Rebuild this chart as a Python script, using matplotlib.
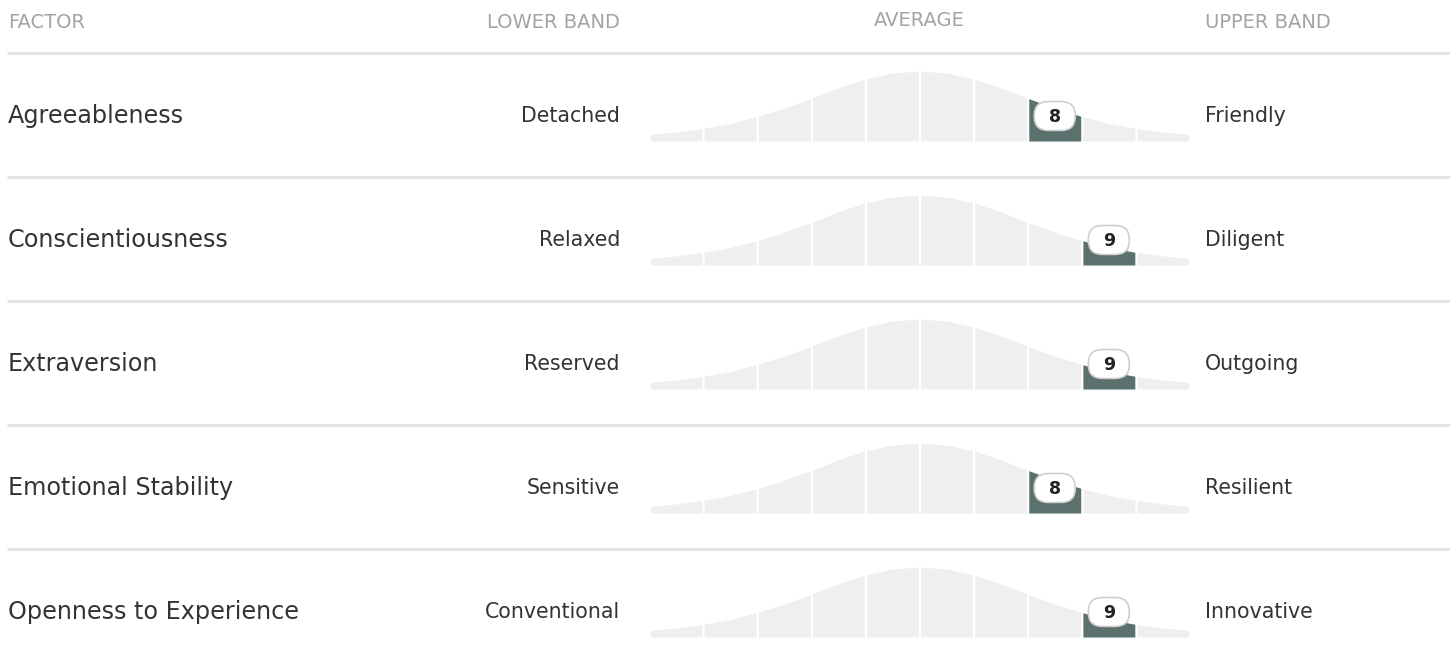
import matplotlib
matplotlib.use("Agg")
import matplotlib.pyplot as plt
from matplotlib.patches import FancyBboxPatch
import numpy as np

# data
factors = ["Agreeableness", "Conscientiousness", "Extraversion",
           "Emotional Stability", "Openness to Experience"]
lower_band = ["Detached", "Relaxed", "Reserved", "Sensitive", "Conventional"]
upper_band = ["Friendly", "Diligent", "Outgoing", "Resilient", "Innovative"]
scores = [8, 9, 9, 8, 9]
headers = ["FACTOR", "LOWER BAND", "AVERAGE", "UPPER BAND"]

# bell shape (sten position -> relative height)
curve_x = [0.5, 1.0, 1.5, 2.0, 2.5, 3.0, 3.5, 4.0, 4.5, 5.0, 5.5,
           6.0, 6.5, 7.0, 7.5, 8.0, 8.5, 9.0, 9.5, 10.0, 10.5]
curve_h = [0.09, 0.13, 0.18, 0.25, 0.35, 0.47, 0.61, 0.76, 0.89, 0.97, 1.0,
           0.97, 0.89, 0.76, 0.61, 0.47, 0.35, 0.25, 0.18, 0.13, 0.09]

W, H = 1450, 663
fig = plt.figure(figsize=(W / 100, H / 100), dpi=100)
ax = fig.add_axes([0, 0, 1, 1])
ax.set_xlim(0, W)
ax.set_ylim(H, 0)
ax.axis("off")

font = "DejaVu Sans"
dark = "#333333"
grey_txt = "#a3a3a3"
seg_col = "#efefef"
hi_col = "#5a716e"
line_col = "#e2e2e2"

# header
hs_ = 14
ax.text(8, 22, headers[0], ha="left", va="center", fontsize=hs_, color=grey_txt, family=font)
ax.text(620, 22, headers[1], ha="right", va="center", fontsize=hs_, color=grey_txt, family=font)
ax.text(919, 20, headers[2], ha="center", va="center", fontsize=hs_, color=grey_txt, family=font)
ax.text(1205, 22, headers[3], ha="left", va="center", fontsize=hs_, color=grey_txt, family=font)

row0, step = 116, 124
cx0, cx1 = 649, 1190

badges = []
for i, (name, lo, up, sc) in enumerate(zip(factors, lower_band, upper_band, scores)):
    yc = row0 + i * step
    ax.plot([7, W], [yc - 63, yc - 63], color=line_col, lw=2, solid_capstyle="butt")
    ax.text(8, yc, name, ha="left", va="center", fontsize=17.2, color=dark, family=font)
    ax.text(620, yc, lo, ha="right", va="center", fontsize=14.8, color=dark, family=font)
    ax.text(1205, yc, up, ha="left", va="center", fontsize=14.8, color=dark, family=font)

    # curve axes for this row
    bottom = yc + 25
    top = yc - 45
    cax = fig.add_axes([cx0 / W, (H - bottom) / H, (cx1 - cx0) / W, (bottom - top) / H])
    cax.set_xlim(0.5, 10.5)
    cax.set_ylim(0, 1.0)
    cax.axis("off")
    xs = np.array(curve_x)
    hs = np.array(curve_h)
    gap = 0.02
    for s in range(1, 11):
        a, b = s - 0.5 + gap, s + 0.5 - gap
        m = (xs > a) & (xs < b)
        px = np.concatenate([[a], xs[m], [b]])
        ph = np.concatenate([[np.interp(a, xs, hs)], hs[m], [np.interp(b, xs, hs)]])
        cax.fill_between(px, 0, ph, color=hi_col if s == sc else seg_col, lw=0)

    disp = cax.transData.transform((sc, 25 / 70))
    bx, _ = ax.transData.inverted().transform(disp)
    badges.append((bx, yc, sc))

# overlay for the score badges, drawn above the curves
ov = fig.add_axes([0, 0, 1, 1])
ov.set_xlim(0, W)
ov.set_ylim(H, 0)
ov.axis("off")
ov.patch.set_alpha(0)
for bx, by, sc in badges:
    bw, bh = 41, 29
    shadow = FancyBboxPatch((bx - bw / 2 + 0.5, by - bh / 2 + 1.5), bw, bh,
                            boxstyle="round,pad=0,rounding_size=14",
                            fc="#000000", ec="none", alpha=0.12)
    ov.add_patch(shadow)
    badge = FancyBboxPatch((bx - bw / 2, by - bh / 2), bw, bh,
                           boxstyle="round,pad=0,rounding_size=14",
                           fc="white", ec="#cfcfcf", lw=1.2)
    ov.add_patch(badge)
    ov.text(bx, by + 0.5, str(sc), ha="center", va="center", fontsize=12.5,
            fontweight="bold", color="#222222", family=font)

fig.savefig("out.png", dpi=100)
